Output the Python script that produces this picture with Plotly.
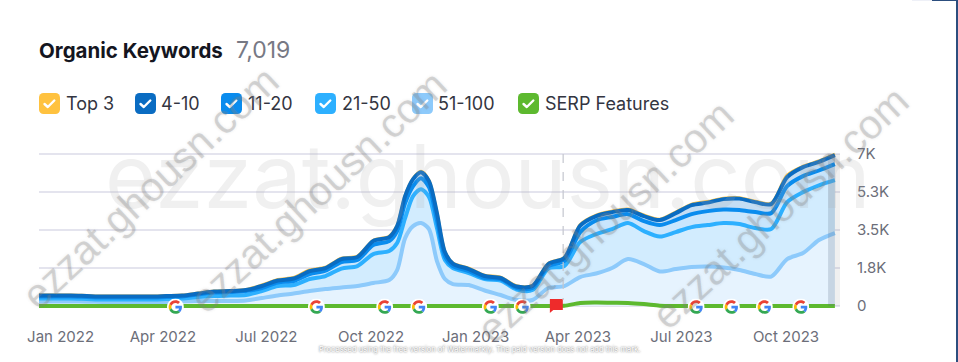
import base64
import pandas as pd
import plotly.graph_objects as go

# Sampling days after 1 Jan 2022
days = [0, 14, 28, 42, 56, 70, 84, 98, 112, 126, 140, 154, 168, 182, 196, 210, 224, 238, 252, 266, 280,
        294, 308, 315, 322, 329, 336, 343, 350, 357, 364, 378, 392, 406, 420, 434, 448, 462, 476, 490,
        504, 518, 532, 546, 560, 574, 588, 602, 616, 630, 644, 658, 672, 686, 700]
top3 = [506, 506, 506, 483, 460, 460, 460, 460, 483, 506, 598, 690, 713, 759, 966, 1219, 1311, 1656, 1790, 2200, 2300,
        3030, 3214, 3720, 5100, 5880, 6200, 5790, 4320, 2520, 1978, 1740, 1420, 1330, 930, 950, 1970, 2240, 3750, 4190,
        4370, 4470, 4190, 4000, 4324, 4692, 4810, 4968, 4991, 4830, 4738, 6026, 6440, 6680, 6992]
pos4_10 = [483, 483, 483, 460, 437, 437, 437, 437, 460, 483, 575, 667, 690, 736, 920, 1173, 1265, 1610, 1748, 2162, 2254,
           2990, 3174, 3680, 5060, 5842, 6164, 5750, 4278, 2484, 1955, 1702, 1380, 1288, 897, 920, 1932, 2208, 3700, 4140,
           4320, 4420, 4140, 3956, 4278, 4646, 4761, 4922, 4945, 4784, 4692, 5934, 6394, 6640, 6946]
pos11_20 = [437, 437, 437, 414, 391, 391, 391, 391, 414, 437, 529, 621, 644, 690, 828, 1081, 1150, 1472, 1633, 2024, 2116,
            2806, 2990, 3450, 4738, 5520, 5888, 5474, 3956, 2300, 1840, 1610, 1288, 1242, 828, 828, 1840, 2070, 3400, 3940,
            4100, 4230, 3910, 3726, 3956, 4232, 4370, 4439, 4416, 4324, 4278, 5520, 5980, 6240, 6532]
pos21_50 = [345, 345, 345, 322, 299, 299, 299, 299, 322, 345, 414, 460, 483, 506, 690, 920, 966, 1242, 1380, 1725, 1840,
            2392, 2530, 2898, 4048, 5060, 5382, 5014, 3588, 2116, 1748, 1518, 1242, 1173, 759, 736, 1725, 1840, 2944, 3312,
            3542, 3818, 3450, 3197, 3404, 3634, 3726, 3818, 3772, 3588, 3542, 4784, 5244, 5560, 5796]
pos51_100 = [207, 207, 207, 198, 184, 184, 184, 184, 184, 207, 230, 230, 230, 253, 368, 483, 575, 690, 782, 851, 920,
             1058, 1196, 1656, 3128, 3680, 3818, 3542, 2070, 1242, 1012, 966, 713, 506, 276, 276, 828, 920, 1334, 1495,
             1748, 2162, 1932, 1587, 1702, 1794, 1817, 1771, 1656, 1472, 1357, 2162, 2438, 3036, 3358]
serp = [0, 0, 0, 0, 0, 0, 0, 0, 0, 0, 0, 0, 0, 0, 0, 0, 0, 0, 0, 0, 0,
        0, 0, 0, 0, 0, 0, 0, 0, 0, 0, 0, 0, 0, 0, 0, 0, 10, 140, 160, 150,
        140, 90, 15, 0, 0, 0, 0, 0, 0, 0, 0, 0, 0, 0]

y_ticks = [0, 1750, 3500, 5250, 7000]
y_labels = ["0", "1.8K", "3.5K", "5.3K", "7K"]
x_ticks = ["2022-01-20", "2022-04-20", "2022-07-20", "2022-10-20", "2023-01-20", "2023-04-20", "2023-07-20", "2023-10-20"]
x_labels = ["Jan 2022", "Apr 2022", "Jul 2022", "Oct 2022", "Jan 2023", "Apr 2023", "Jul 2023", "Oct 2023"]
google_dates = ["2022-05-01", "2022-09-02", "2022-11-01", "2022-12-01", "2023-02-02", "2023-03-02",
                "2023-08-02", "2023-09-02", "2023-10-01", "2023-11-02"]
flag_date = "2023-04-01"
legend_names = ["Top 3", "4-10", "11-20", "21-50", "51-100", "SERP Features"]
legend_colors = ["#FFC23F", "#0A6CC2", "#0A8CEE", "#2DB0FF", "#8DCAFB", "#5DB92F"]

W, H = 958, 362
L, R, T, B = 39, 840, 150, 310
start = pd.Timestamp("2022-01-01")
dates = [start + pd.Timedelta(days=d) for d in days]


def px(x):
    return (x - L) / (R - L)


def py(y):
    return (B - y) / (B - T)


def uri(svg):
    return "data:image/svg+xml;base64," + base64.b64encode(svg.encode()).decode()


def ms(d):
    return pd.Timestamp(d).timestamp() * 1000


G_SVG = ('<svg xmlns="http://www.w3.org/2000/svg" viewBox="-6 -6 60 60"><circle cx="24" cy="24" r="30" fill="#fff"/>'
         '<path fill="#EA4335" d="M24 9.5c3.54 0 6.71 1.22 9.21 3.6l6.85-6.85C35.9 2.38 30.47 0 24 0 14.62 0 6.51 5.38 2.56 13.22l7.98 6.19C12.43 13.72 17.74 9.5 24 9.5z"/>'
         '<path fill="#4285F4" d="M46.98 24.55c0-1.57-.15-3.09-.38-4.55H24v9.02h12.94c-.58 2.96-2.26 5.48-4.78 7.18l7.73 6c4.51-4.18 7.09-10.36 7.09-17.65z"/>'
         '<path fill="#FBBC05" d="M10.53 28.59c-.48-1.45-.76-2.99-.76-4.59s.27-3.14.76-4.59l-7.98-6.19C.92 16.46 0 20.12 0 24c0 3.88.92 7.54 2.56 10.78l7.97-6.19z"/>'
         '<path fill="#34A853" d="M24 48c6.48 0 11.93-2.13 15.89-5.81l-7.73-6c-2.15 1.45-4.92 2.3-8.16 2.3-6.26 0-11.57-4.22-13.47-9.91l-7.98 6.19C6.51 42.62 14.62 48 24 48z"/></svg>')
FLAG_SVG = ('<svg xmlns="http://www.w3.org/2000/svg" viewBox="0 0 14 15">'
            '<path fill="#EE2B2B" d="M0.5 0.5H13.5V11.5H4L0.5 14.5Z"/></svg>')


def box_svg(color):
    return (f'<svg xmlns="http://www.w3.org/2000/svg" viewBox="0 0 21 21"><rect width="21" height="21" rx="4.5" fill="{color}"/>'
            '<path d="M5.5 11l3.3 3 6.5-6.5" fill="none" stroke="#fff" stroke-width="2.4" stroke-linecap="round" stroke-linejoin="round"/></svg>')


fig = go.Figure()


def add(values, color, width, fill=None, fillcolor=None, name=""):
    fig.add_trace(go.Scatter(x=dates, y=values, mode="lines", name=name, cliponaxis=False,
                             line=dict(color=color, width=width, shape="spline", smoothing=0.8),
                             fill=fill, fillcolor=fillcolor, hoverinfo="skip", showlegend=False))


add(top3, "#FFC23F", 3, name="Top 3")
add(pos51_100, "#8DCAFB", 4, "tozeroy", "#E6F3FE", "51-100")
add(pos21_50, "#2DB0FF", 4, "tonexty", "#D2ECFE", "21-50")
add(pos11_20, "#0A8CEE", 4, "tonexty", "#C9E6FD", "11-20")
add(pos4_10, "#0A6CC2", 4, "tonexty", "#C3DDF4", "4-10")
add(serp, "#5DB92F", 4, name="SERP Features")

images = []
for d in google_dates:
    images.append(dict(source=uri(G_SVG), xref="x", yref="paper", x=ms(d), y=py(307), sizex=17 / 1.137 * 86400000, sizey=17 / (B - T),
                       xanchor="center", yanchor="middle", sizing="stretch", layer="above"))
images.append(dict(source=uri(FLAG_SVG), xref="x", yref="paper", x=ms(flag_date), y=py(306), sizex=14 / 1.137 * 86400000, sizey=15 / (B - T),
                   xanchor="center", yanchor="middle", sizing="stretch", layer="above"))

leg_box_x = [39, 135, 221, 315, 412, 518]
leg_text_x = [64, 159, 246, 340, 436, 543]
for c, bx in zip(legend_colors, leg_box_x):
    images.append(dict(source=uri(box_svg(c)), xref="paper", yref="paper", x=px(bx), y=py(93), sizex=21 / (R - L), sizey=21 / (B - T),
                       xanchor="left", yanchor="top", sizing="stretch", layer="above"))

ann = []
INTER = "Inter, Liberation Sans, sans-serif"
ann.append(dict(text="<b>Organic Keywords</b>", x=px(37), y=py(50), xref="paper", yref="paper", xanchor="left", yanchor="middle",
                showarrow=False, font=dict(family=INTER, size=20.5, color="#14161f")))
ann.append(dict(text="7,019", x=px(234), y=py(50), xref="paper", yref="paper", xanchor="left", yanchor="middle",
                showarrow=False, font=dict(family=INTER, size=23, color="#777984")))
for n, tx in zip(legend_names, leg_text_x):
    ann.append(dict(text=n, x=px(tx), y=py(104), xref="paper", yref="paper", xanchor="left", yanchor="middle",
                    showarrow=False, font=dict(family=INTER, size=18, color="#333541")))

# Watermarks
WM = "ezzat.ghousn.com"
ann.append(dict(text=WM, x=px(488), y=py(176), xref="paper", yref="paper", showarrow=False, xanchor="center", yanchor="middle",
                font=dict(family="Inter, sans-serif", size=88, color="rgba(170,170,170,0.18)", weight=400)))
for cx, cy in [(150, 188), (318, 192), (605, 222), (780, 208)]:
    ann.append(dict(text=WM, x=px(cx), y=py(cy), xref="paper", yref="paper", showarrow=False, textangle=-43,
                    xanchor="center", yanchor="middle",
                    font=dict(family="Liberation Sans, sans-serif", size=41, color="rgba(130,130,130,0.28)",
                              shadow="0px 0px 3px rgba(120,120,120,0.55)")))
ann.append(dict(text="Processed using the free version of Watermarkly. The paid version does not add this mark.",
                x=px(479), y=py(349.5), xref="paper", yref="paper", showarrow=False, xanchor="center", yanchor="middle",
                font=dict(family="Inter, sans-serif", size=7.5, color="#ffffff", shadow="0px 0px 2px rgba(60,60,60,0.9)")))

shapes = [
    dict(type="line", xref="x", yref="paper", x0="2023-04-07", x1="2023-04-07", y0=py(154), y1=py(300),
         line=dict(color="#C4C6CE", width=1.2, dash="dash"), layer="above"),
    dict(type="rect", xref="x", yref="paper", x0=start + pd.Timedelta(days=694), x1=start + pd.Timedelta(days=700),
         y0=py(154), y1=py(306), fillcolor="rgba(90,110,130,0.22)", line_width=0, layer="above"),
    dict(type="rect", xref="x", yref="paper", x0=start + pd.Timedelta(days=700), x1=start + pd.Timedelta(days=705),
         y0=py(154), y1=py(306), fillcolor="rgba(140,140,140,0.13)", line_width=0, layer="above"),
    dict(type="rect", xref="paper", yref="paper", x0=px(956), x1=px(958), y0=py(0), y1=py(362),
         fillcolor="#2C4E7E", line_width=0, layer="above"),
    dict(type="rect", xref="paper", yref="paper", x0=px(932), x1=px(958), y0=py(0), y1=py(1),
         fillcolor="#2C4E7E", line_width=0, layer="above"),
    dict(type="rect", xref="paper", yref="paper", x0=px(912), x1=px(932), y0=py(0), y1=py(1),
         fillcolor="#EEF0F7", line_width=0, layer="above"),
]

fig.update_layout(
    width=W, height=H, autosize=False, paper_bgcolor="white", plot_bgcolor="white",
    margin=dict(l=L, r=W - R, t=T, b=H - B), showlegend=False,
    images=images, annotations=ann, shapes=shapes,
    xaxis=dict(type="date", range=[start, start + pd.Timedelta(days=704.5)], tickvals=x_ticks, ticktext=x_labels,
               showgrid=False, zeroline=False, showline=False, ticks="", ticklabelstandoff=16,
               tickfont=dict(family=INTER, size=15, color="#6C6E79")),
    yaxis=dict(range=[-184, 7184], side="right", tickvals=y_ticks, ticktext=y_labels, showgrid=True, gridcolor="#E4E4EE",
               gridwidth=1.5, zeroline=False, showline=False, ticks="", ticklabelstandoff=16,
               tickfont=dict(family=INTER, size=15, color="#6C6E79")),
)

assert all(len(s) == len(days) for s in [top3, pos4_10, pos11_20, pos21_50, pos51_100, serp])

fig.write_html("out.html", config={"displayModeBar": False},
               post_script="document.body.style.margin='0';document.body.style.overflow='hidden';")
